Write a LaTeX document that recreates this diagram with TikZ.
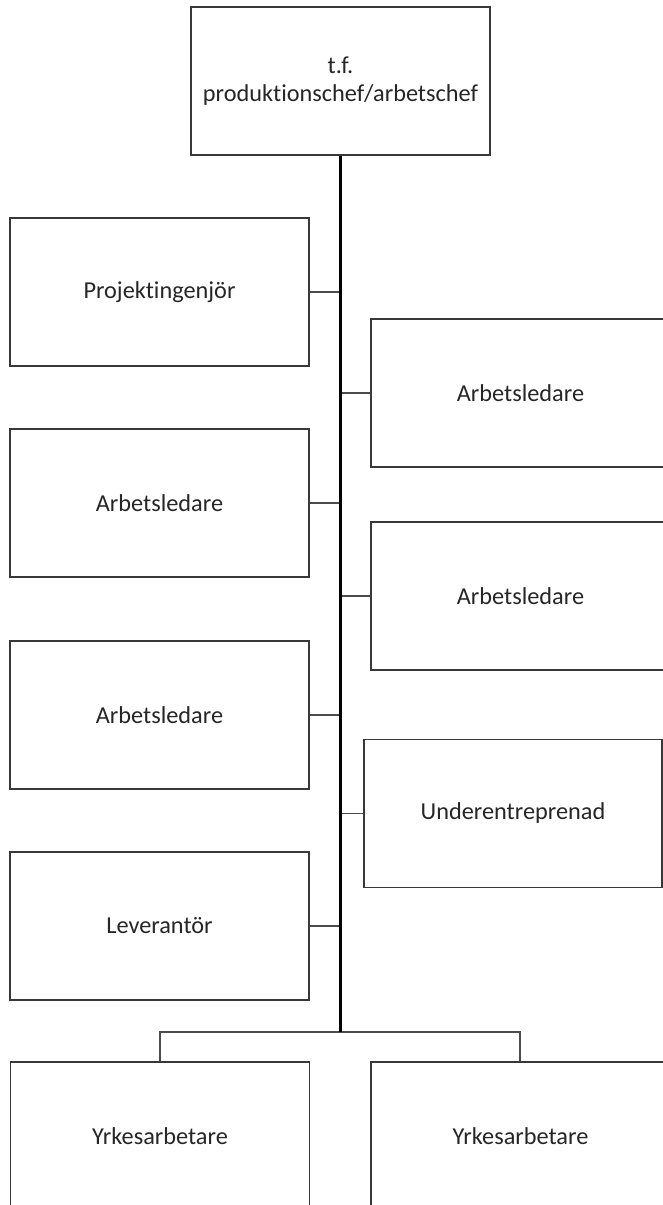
\documentclass[tikz,border=0pt]{standalone}
\usepackage{fontspec}
\setmainfont[RawFeature=-liga]{Carlito}
\begin{document}
\begin{tikzpicture}[x=1pt,y=-1pt,
  orgbox/.style={draw=black!78, line width=1.4pt, fill=white, minimum width=299pt, minimum height=148pt,
    inner sep=0pt, text=black!85, font=\fontsize{24.3}{28}\selectfont, align=center},
  link/.style={draw=black!70, line width=1.4pt},
  trunk/.style={draw=black, line width=3pt}]
\useasboundingbox (0,0) rectangle (663,1205);
\clip (0,0) rectangle (663,1205);
% boxes
\node[orgbox] (top) at (340.5,81) {t.f.\\produktionschef/arbetschef};
\node[orgbox] (l1) at (159.5,292) {Projektingenjör};
\node[orgbox] (l2) at (159.5,503) {Arbetsledare};
\node[orgbox] (l3) at (159.5,715) {Arbetsledare};
\node[orgbox] (l4) at (159.5,926) {Leverantör};
\node[orgbox] (r1) at (520.5,393) {Arbetsledare};
\node[orgbox] (r2) at (520.5,596) {Arbetsledare};
\node[orgbox, minimum width=298pt] (r3) at (513,813.5) {Underentreprenad};
\node[orgbox] (b1) at (160,1136) {Yrkesarbetare};
\node[orgbox] (b2) at (520.5,1136) {Yrkesarbetare};
\coordinate (bar) at (340.5,1032);
% side links
\foreach \n in {l1,l2,l3,l4,r1,r2,r3}
  \draw[link] (\n) -- (\n -| top.south);
% bottom links
\draw[link] (b1.north -| 160,0) |- (bar) -| (b2.north -| 520,0);
% trunk
\draw[trunk] (top.south) -- (bar);
\end{tikzpicture}
\end{document}
